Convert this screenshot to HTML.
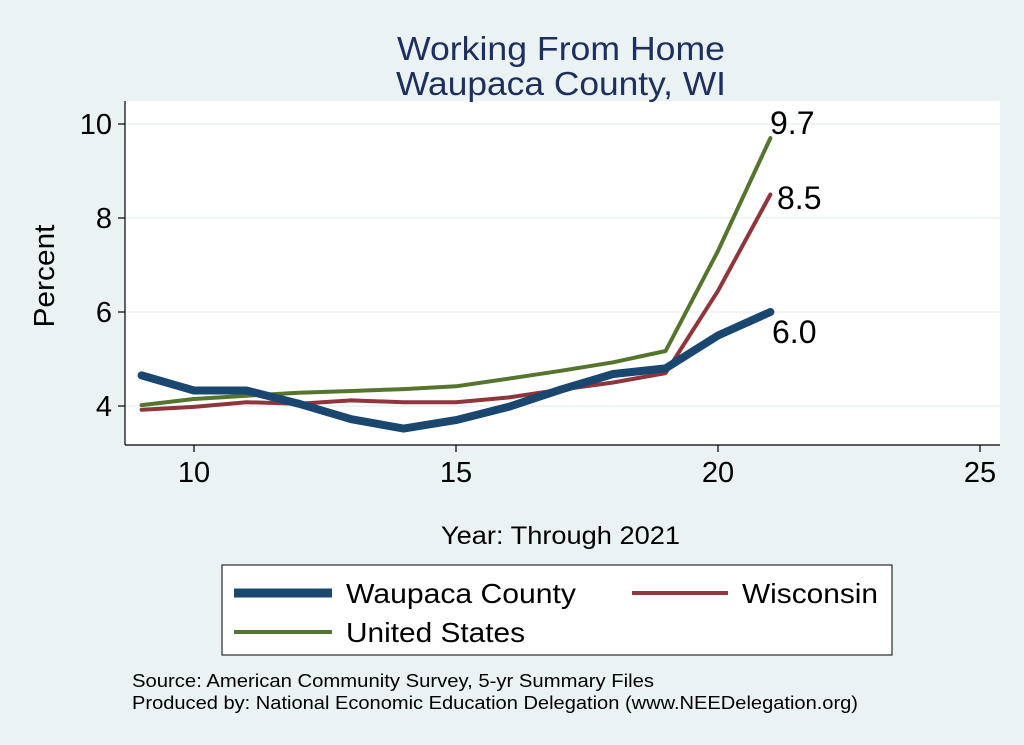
<!DOCTYPE html>
<html><head><meta charset="utf-8"><style>
body{margin:0;background:#eaf2f3;}
svg{display:block;font-family:"Liberation Sans",sans-serif;}
</style></head><body>
<svg width="1024" height="745" viewBox="0 0 1024 745">
<rect width="1024" height="745" fill="#eaf2f3"/>
<rect x="125" y="101" width="875" height="344" fill="#fff"/>
<g stroke="#eaf2f3" stroke-width="1.5">
<line x1="125" x2="1000" y1="124" y2="124"/><line x1="125" x2="1000" y1="218" y2="218"/>
<line x1="125" x2="1000" y1="312" y2="312"/><line x1="125" x2="1000" y1="406" y2="406"/>
</g>
<g stroke="#000" stroke-width="1.2">
<line x1="125" y1="101" x2="125" y2="445"/><line x1="125" y1="445" x2="1000" y2="445"/>
<line x1="118" x2="125" y1="124" y2="124"/><line x1="118" x2="125" y1="218" y2="218"/>
<line x1="118" x2="125" y1="312" y2="312"/><line x1="118" x2="125" y1="406" y2="406"/>
<line x1="194" x2="194" y1="445" y2="452"/><line x1="456" x2="456" y1="445" y2="452"/>
<line x1="718" x2="718" y1="445" y2="452"/><line x1="980" x2="980" y1="445" y2="452"/>
</g>
<g font-size="29" fill="#000" text-anchor="end">
<text x="112" y="134">10</text><text x="112" y="228">8</text><text x="112" y="322">6</text><text x="112" y="416">4</text>
</g>
<g font-size="29" fill="#000" text-anchor="middle">
<text x="194" y="482">10</text><text x="456" y="482">15</text><text x="718" y="482">20</text><text x="980" y="482">25</text>
</g>
<text x="54" y="276" font-size="29" text-anchor="middle" transform="rotate(-90 54 276)" textLength="103" lengthAdjust="spacingAndGlyphs">Percent</text>
<text x="441" y="544" font-size="25" textLength="239" lengthAdjust="spacingAndGlyphs">Year: Through 2021</text>
<text x="397" y="60" font-size="33" fill="#1c2f5e" textLength="328" lengthAdjust="spacingAndGlyphs">Working From Home</text>
<text x="396" y="95" font-size="33" fill="#1c2f5e" textLength="330" lengthAdjust="spacingAndGlyphs">Waupaca County, WI</text>
<g fill="none" stroke-linejoin="round" stroke-linecap="round">
<polyline stroke="#55752f" stroke-width="4" points="141.6,405.1 194,399 246.4,395.7 298.8,392.8 351.2,391 403.6,389.1 456,386.3 508.4,378.7 560.8,370.8 613.2,362.3 665.6,351 718,250.9 770.4,138.1"/>
<polyline stroke="#90353b" stroke-width="4" points="141.6,409.8 194,406.9 246.4,402.2 298.8,403.7 351.2,400.4 403.6,402.2 456,402.2 508.4,397.5 560.8,389.6 613.2,382.5 665.6,373.1 718,290.8 770.4,194.5"/>
<polyline stroke="#1a476f" stroke-width="8" points="141.6,375.4 194,390.5 246.4,390.5 298.8,403.7 351.2,419.2 403.6,428.6 456,420.1 508.4,406.9 560.8,389.6 613.2,374 665.6,368.4 718,335.5 770.4,312"/>
</g>
<g font-size="32" fill="#000">
<text x="770" y="134">9.7</text><text x="777" y="209">8.5</text><text x="772" y="343">6.0</text>
</g>
<rect x="222" y="565" width="670" height="90" fill="#fff" stroke="#000" stroke-width="1"/>
<line x1="234" x2="332" y1="593" y2="593" stroke="#1a476f" stroke-width="9"/>
<text x="346" y="603" font-size="28" textLength="230" lengthAdjust="spacingAndGlyphs">Waupaca County</text>
<line x1="632" x2="728" y1="593" y2="593" stroke="#90353b" stroke-width="4"/>
<text x="742" y="603" font-size="28" textLength="136" lengthAdjust="spacingAndGlyphs">Wisconsin</text>
<line x1="234" x2="332" y1="632" y2="632" stroke="#55752f" stroke-width="4"/>
<text x="346" y="642" font-size="28" textLength="179" lengthAdjust="spacingAndGlyphs">United States</text>
<text x="132" y="687" font-size="18" textLength="522" lengthAdjust="spacingAndGlyphs">Source: American Community Survey, 5-yr Summary Files</text>
<text x="132" y="709" font-size="18" textLength="726" lengthAdjust="spacingAndGlyphs">Produced by: National Economic Education Delegation (www.NEEDelegation.org)</text>
</svg>
</body></html>
